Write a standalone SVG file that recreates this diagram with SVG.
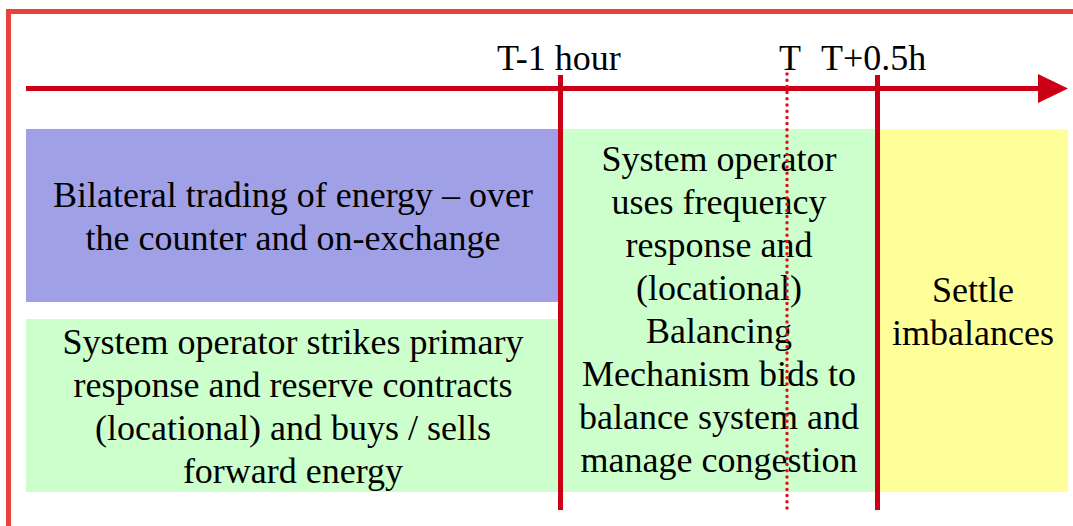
<svg xmlns="http://www.w3.org/2000/svg" width="1073" height="526" viewBox="0 0 1073 526">
<style>
.t{font-family:"Liberation Serif","Times New Roman",serif;font-size:36px;fill:#000;text-anchor:middle}
.h{font-family:"Liberation Serif","Times New Roman",serif;font-size:36px;fill:#000}
.ax{stroke:#CC0014;stroke-width:5;fill:none}
</style>
<rect width="1073" height="526" fill="#ffffff"/>
<g id="frame">
<path d="M8.5,526 V11.5 H1073" fill="none" stroke="#E8433A" stroke-width="5"/>
</g>
<g id="bilateral">
<rect x="26" y="129" width="532" height="173" fill="#A0A0E6"/>
<text class="t" x="293" y="207">Bilateral trading of energy – over</text>
<text class="t" x="293" y="250">the counter and on-exchange</text>
</g>
<g id="contracts">
<rect x="26" y="319" width="532" height="173" fill="#CCFFCC"/>
<text class="t" x="293" y="354">System operator strikes primary</text>
<text class="t" x="293" y="397">response and reserve contracts</text>
<text class="t" x="293" y="440">(locational) and buys / sells</text>
<text class="t" x="293" y="483">forward energy</text>
</g>
<g id="balancing">
<rect x="558" y="129" width="320" height="363" fill="#CCFFCC"/>
<text class="t" x="719" y="171">System operator</text>
<text class="t" x="719" y="214">uses frequency</text>
<text class="t" x="719" y="257">response and</text>
<text class="t" x="719" y="300">(locational)</text>
<text class="t" x="719" y="343">Balancing</text>
<text class="t" x="719" y="386">Mechanism bids to</text>
<text class="t" x="719" y="429">balance system and</text>
<text class="t" x="719" y="472">manage congestion</text>
</g>
<g id="settle">
<rect x="878" y="129" width="190" height="363" fill="#FFFF99"/>
<text class="t" x="973" y="302">Settle</text>
<text class="t" x="973" y="345">imbalances</text>
</g>
<g id="labels">
<text class="h" x="497" y="70">T-1 hour</text>
<text class="h" x="779" y="70">T</text>
<text class="h" x="821" y="70">T+0.5h</text>
</g>
<g id="connectors">
<line class="ax" x1="26" y1="88.5" x2="1040" y2="88.5"/>
<polygon points="1038,74 1068,88.5 1038,103" fill="#CC0014"/>
<line class="ax" x1="560.5" y1="75" x2="560.5" y2="510"/>
<line class="ax" x1="877.5" y1="75" x2="877.5" y2="510"/>
<line x1="787" y1="74" x2="787" y2="510" stroke="#E0101E" stroke-width="3.5" stroke-dasharray="0 6.2" stroke-linecap="round"/>
</g>
</svg>
